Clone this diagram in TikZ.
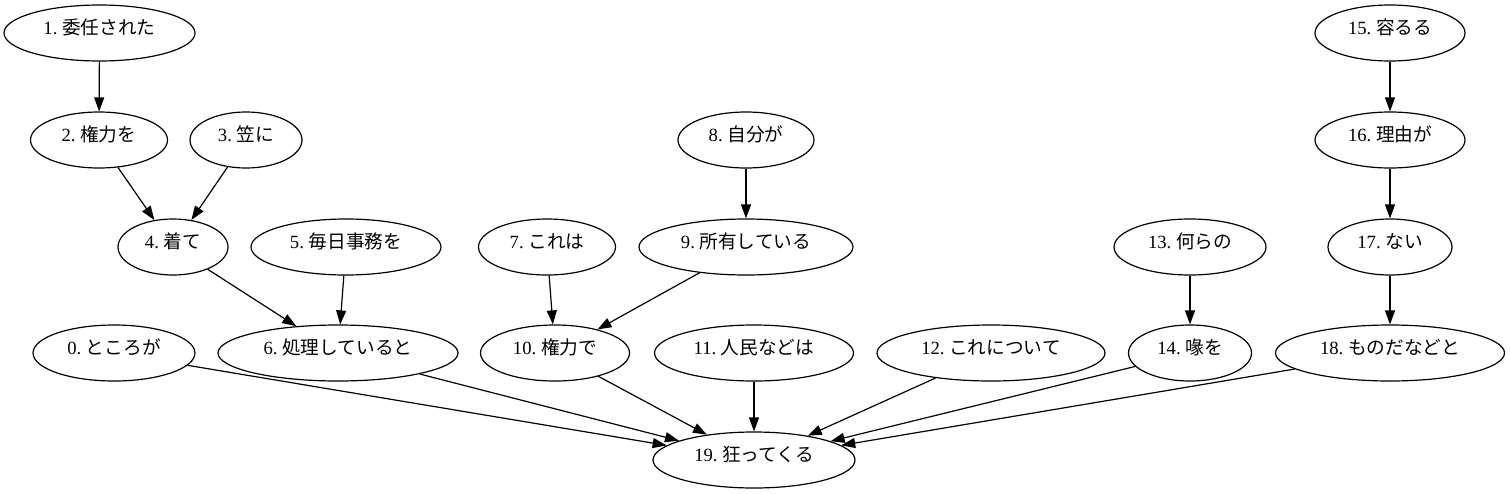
\documentclass[tikz,border=0pt]{standalone}
\usepackage{fontspec}
\setmainfont{Liberation Serif}
\newfontfamily\cjk{Noto Sans CJK JP}
\usetikzlibrary{shapes.geometric, arrows.meta}
\frenchspacing

\begin{document}
\begin{tikzpicture}[x=1pt, y=-1pt,
  word/.style={draw, ellipse, line width=1.2pt, inner sep=0pt, minimum height=56pt,
    text depth=12pt, font=\fontsize{18.67}{22}\selectfont},
  dep/.style={line width=1.2pt, -{Triangle[length=14pt, width=10pt]}}]
\useasboundingbox (0,0) rectangle (1510,493);
% top rows
\node[word, minimum width=191pt] (n1) at (99.5,33) {1. \cjk 委任された};
\node[word, minimum width=150pt] (n15) at (1390,33) {15. \cjk 容るる};
\node[word, minimum width=137pt] (n2) at (99,140) {2. \cjk 権力を};
\node[word, minimum width=112pt] (n3) at (246,140) {3. \cjk 笠に};
\node[word, minimum width=136pt] (n8) at (746,140) {8. \cjk 自分が};
\node[word, minimum width=150pt] (n16) at (1390,140) {16. \cjk 理由が};
\node[word, minimum width=110pt] (n4) at (173,247) {4. \cjk 着て};
\node[word, minimum width=190pt] (n5) at (346,247) {5. \cjk 毎日事務を};
\node[word, minimum width=137pt] (n7) at (547,247) {7. \cjk これは};
\node[word, minimum width=214pt] (n9) at (746,247) {9. \cjk 所有している};
\node[word, minimum width=152pt] (n13) at (1190,247) {13. \cjk 何らの};
\node[word, minimum width=124pt] (n17) at (1390,247) {17. \cjk ない};
% row above the root
\node[word, minimum width=162pt] (n0) at (114,353) {0. \cjk ところが};
\node[word, minimum width=240pt] (n6) at (338,353) {6. \cjk 処理していると};
\node[word, minimum width=149pt] (n10) at (555,353) {10. \cjk 権力で};
\node[word, minimum width=199pt] (n11) at (754,353) {11. \cjk 人民などは};
\node[word, minimum width=228pt] (n12) at (991,353) {12. \cjk これについて};
\node[word, minimum width=123pt] (n14) at (1190,353) {14. \cjk 喙を};
\node[word, minimum width=229pt] (n18) at (1390,353) {18. \cjk ものだなどと};
\node[word, minimum width=202pt] (n19) at (754,460) {19. \cjk 狂ってくる};
% dependencies
\draw[dep] (n1) -- (n2);
\draw[dep] (n2) -- (n4);
\draw[dep] (n3) -- (n4);
\draw[dep] (n4) -- (n6);
\draw[dep] (n5) -- (n6);
\draw[dep] (n7) -- (n10);
\draw[dep] (n8) -- (n9);
\draw[dep] (n9) -- (n10);
\draw[dep] (n13) -- (n14);
\draw[dep] (n15) -- (n16);
\draw[dep] (n16) -- (n17);
\draw[dep] (n17) -- (n18);
\foreach \s in {0,6,10,11,12,14,18}
\draw[dep] (n\s) -- (n19);
\end{tikzpicture}
\end{document}
